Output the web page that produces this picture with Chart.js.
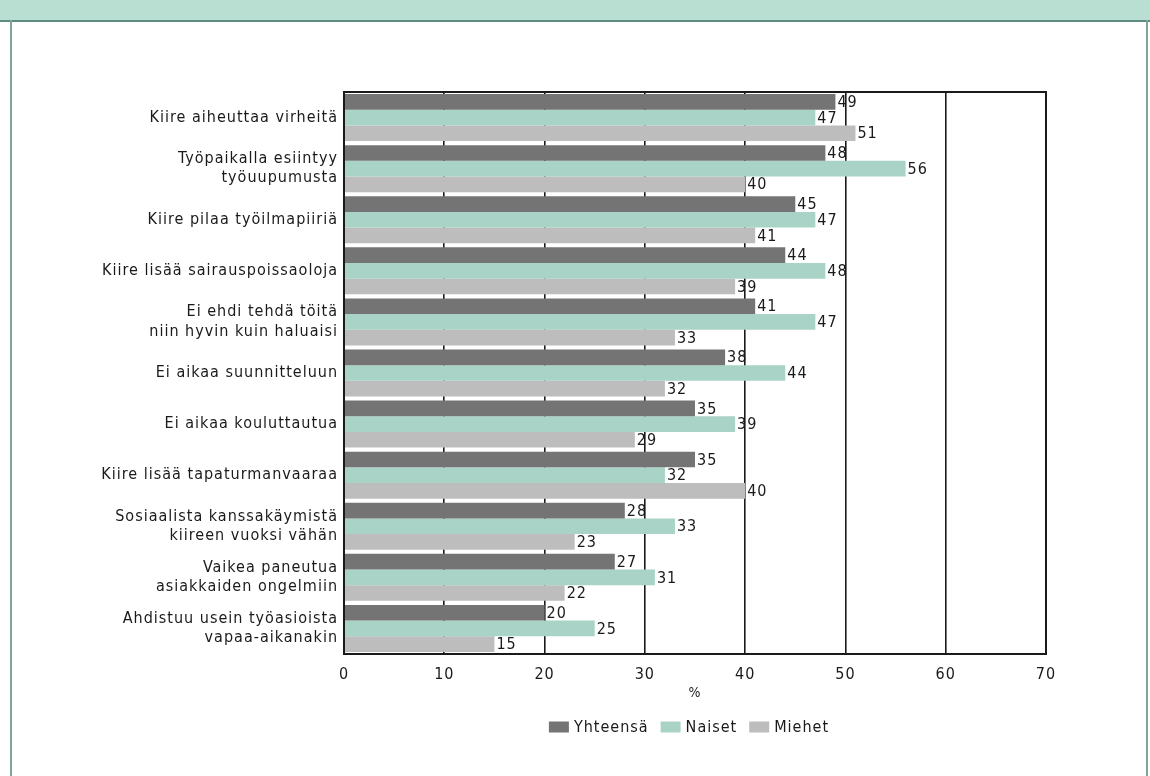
<!DOCTYPE html>
<html>
<head>
<meta charset="utf-8">
<script src="https://cdn.jsdelivr.net/npm/chart.js@4/dist/chart.umd.min.js"></script>
<style>
    html, body { margin: 0; padding: 0; background: #fff; }
    #wrap { position: relative; width: 1150px; height: 776px; overflow: hidden; }
    #band { position: absolute; left: 0; top: 0; width: 1150px; height: 20px; background: #b9dfd3; border-bottom: 2px solid #5f8c80; }
    #frameL { position: absolute; left: 10px; top: 20px; width: 2px; height: 756px; background: #7fa59b; }
    #frameR { position: absolute; left: 1146px; top: 20px; width: 2px; height: 756px; background: #7fa59b; }
    canvas { position: absolute; left: 0; top: 0; }
</style>
</head>
<body>
<div id="wrap">
    <div id="band"></div>
    <div id="frameL"></div>
    <div id="frameR"></div>
    <canvas id="barChart" width="1150" height="776"></canvas>
</div>
<script>
// categories (top to bottom)
const categories = [
    "Kiire aiheuttaa virheitä",
    ["Työpaikalla esiintyy", "työuupumusta"],
    "Kiire pilaa työilmapiiriä",
    "Kiire lisää sairauspoissaoloja",
    ["Ei ehdi tehdä töitä", "niin hyvin kuin haluaisi"],
    "Ei aikaa suunnitteluun",
    "Ei aikaa kouluttautua",
    "Kiire lisää tapaturmanvaaraa",
    ["Sosiaalista kanssakäymistä", "kiireen vuoksi vähän"],
    ["Vaikea paneutua", "asiakkaiden ongelmiin"],
    ["Ahdistuu usein työasioista", "vapaa-aikanakin"]
];

// series values (%)
const yhteensa = [49, 48, 45, 44, 41, 38, 35, 35, 28, 27, 20];
const naiset   = [47, 56, 47, 48, 47, 44, 39, 32, 33, 31, 25];
const miehet   = [51, 40, 41, 39, 33, 32, 29, 40, 23, 22, 15];

const seriesNames = ["Yhteensä", "Naiset", "Miehet"];
const xTicks = [0, 10, 20, 30, 40, 50, 60, 70];

const FONT = "'DejaVu Sans Condensed', 'Liberation Sans Narrow', sans-serif";
const INK = "#1a1a1a";

// the original uses a wide-spaced bitmap font, fake it with letter spacing
const spacing = {
    id: "spacing",
    beforeDraw(chart) { chart.ctx.letterSpacing = "1px"; }
};

/**
 * Value labels at the end of each bar
 */
const valueLabels = {
    id: "valueLabels",
    afterDatasetsDraw(chart) {
        const ctx = chart.ctx;
        ctx.save();
        ctx.font = "16px " + FONT;
        ctx.fillStyle = INK;
        ctx.textAlign = "left";
        ctx.textBaseline = "middle";
        chart.data.datasets.forEach((ds, i) => {
            chart.getDatasetMeta(i).data.forEach((bar, j) => {
                ctx.fillText(ds.data[j], bar.x + 2, bar.y + 1);
            });
        });
        ctx.restore();
    }
};

/**
 * Box round the plot area + legend centred under the plot
 */
const plotBox = {
    id: "plotBox",
    afterDraw(chart) {
        const a = chart.chartArea;
        const ctx = chart.ctx;
        ctx.save();
        ctx.strokeStyle = INK;
        ctx.lineWidth = 2;
        ctx.strokeRect(a.left, a.top, a.right - a.left, a.bottom - a.top);

        // legend
        ctx.font = "16px " + FONT;
        ctx.textBaseline = "middle";
        ctx.textAlign = "left";
        const boxW = 20, boxH = 11, gap = 5, itemGap = 12, y = 727;
        const items = chart.data.datasets.map(ds => ({
            text: ds.label, color: ds.backgroundColor, w: boxW + gap + ctx.measureText(ds.label).width
        }));
        const total = items.reduce((s, it) => s + it.w, 0) + itemGap * (items.length - 1);
        let x = (a.left + a.right) / 2 - total / 2 - 6;
        items.forEach(it => {
            ctx.fillStyle = it.color;
            ctx.fillRect(x, y - boxH / 2, boxW, boxH);
            ctx.fillStyle = INK;
            ctx.fillText(it.text, x + boxW + gap, y + 1);
            x += it.w + itemGap;
        });
        ctx.restore();
    }
};

new Chart(document.getElementById("barChart"), {
    type: "bar",
    data: {
        labels: categories,
        datasets: [
            { label: seriesNames[0], data: yhteensa, backgroundColor: "#747474" },
            { label: seriesNames[1], data: naiset, backgroundColor: "#a9d3c6" },
            { label: seriesNames[2], data: miehet, backgroundColor: "#bdbdbd" }
        ]
    },
    options: {
        indexAxis: "y",
        responsive: false,
        animation: false,
        devicePixelRatio: 1,
        categoryPercentage: 0.92,
        barPercentage: 1.0,
        layout: { padding: { top: 92, right: 104, bottom: 65, left: 0 } },
        scales: {
            x: {
                min: 0,
                max: 70,
                afterBuildTicks: scale => { scale.ticks = xTicks.map(v => ({ value: v })); },
                afterFit: scale => { scale.height = 57; },
                grid: { color: INK, lineWidth: 1.6, drawTicks: false },
                border: { display: false },
                ticks: { color: INK, font: { family: FONT, size: 16 }, padding: 11 },
                title: { display: true, text: "%", color: INK, font: { family: FONT, size: 14 }, padding: { top: 0, bottom: 9 } }
            },
            y: {
                afterFit: scale => { scale.width = 344; },
                grid: { display: false, drawTicks: false },
                border: { display: false },
                ticks: { color: INK, font: { family: FONT, size: 16, lineHeight: 1.2 }, padding: 6, autoSkip: false }
            }
        },
        plugins: {
            legend: { display: false },
            tooltip: { enabled: false }
        }
    },
    plugins: [spacing, valueLabels, plotBox]
});
</script>
</body>
</html>
